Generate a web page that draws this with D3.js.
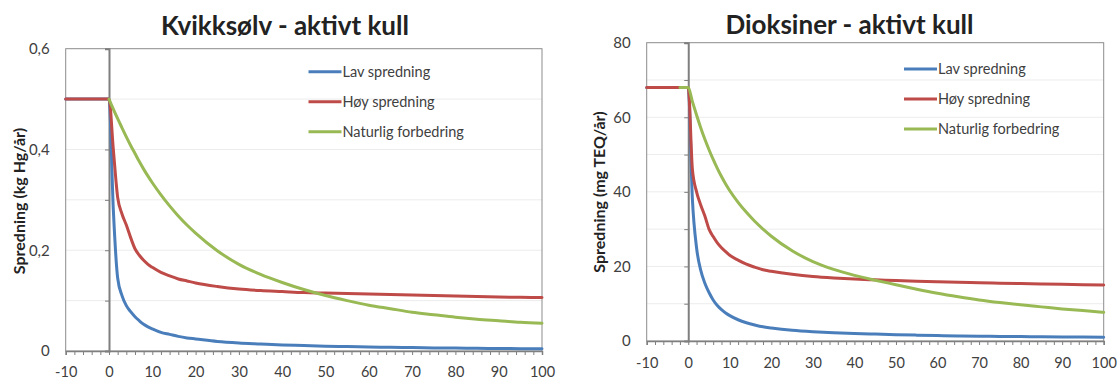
<!DOCTYPE html>
<html>
<head>
<meta charset="utf-8">
<script src="https://cdn.jsdelivr.net/npm/d3@7"></script>
<style>
  html, body { margin: 0; padding: 0; background: #ffffff; }
  svg { display: block; font-family: Lato, "Open Sans", sans-serif; }
</style>
</head>
<body>
<svg id="chart" width="1118" height="381"></svg>
<script>
// ---------- DATA ----------
const years = [-10, -2, 0, 1, 2, 3, 4, 5, 6, 7, 8, 9, 10, 12, 14, 16, 18, 20, 25, 30, 35, 40, 45, 50, 55, 60, 65, 70, 75, 80, 85, 90, 95, 100];

const seriesNames = ["Lav spredning", "Høy spredning", "Naturlig forbedring"];

// Kvikksølv (kg Hg/år)
const hgLav = [0.5, 0.5, 0.5, 0.28, 0.145, 0.11, 0.09, 0.078, 0.068, 0.06, 0.053, 0.048, 0.044, 0.037, 0.033, 0.029, 0.026, 0.024, 0.019, 0.016, 0.014, 0.012, 0.0108, 0.0095, 0.0087, 0.008, 0.0073, 0.0067, 0.0062, 0.0058, 0.0054, 0.005, 0.0047, 0.0045];
const hgHoy = [0.5, 0.5, 0.5, 0.40, 0.305, 0.272, 0.25, 0.225, 0.203, 0.19, 0.18, 0.172, 0.166, 0.156, 0.149, 0.143, 0.139, 0.135, 0.128, 0.123, 0.12, 0.118, 0.116, 0.115, 0.114, 0.113, 0.112, 0.111, 0.11, 0.109, 0.108, 0.107, 0.1065, 0.106];
const hgNat = [null, null, 0.5, 0.48, 0.461, 0.443, 0.425, 0.408, 0.392, 0.376, 0.361, 0.347, 0.334, 0.31, 0.288, 0.268, 0.25, 0.234, 0.199, 0.172, 0.152, 0.136, 0.122, 0.11, 0.1, 0.091, 0.084, 0.077, 0.072, 0.067, 0.063, 0.06, 0.057, 0.055];

// Dioksiner (mg TEQ/år)
const dxLav = [68, 68, 68, 38, 25, 19, 15.5, 13, 11, 9.5, 8.4, 7.5, 6.8, 5.7, 4.9, 4.3, 3.8, 3.5, 2.9, 2.5, 2.2, 2.0, 1.85, 1.7, 1.57, 1.45, 1.37, 1.3, 1.24, 1.18, 1.13, 1.08, 1.04, 1.0];
const dxHoy = [68, 68, 68, 46, 40, 36.5, 33.5, 30, 28, 26.3, 25, 24, 23, 21.7, 20.6, 19.8, 19.1, 18.7, 17.9, 17.3, 16.9, 16.6, 16.4, 16.2, 16.05, 15.9, 15.75, 15.6, 15.5, 15.4, 15.3, 15.2, 15.1, 15.0];
const dxNat = [null, 68, 68, 64.2, 60.6, 57.2, 54.1, 51.3, 48.7, 46.3, 44.1, 42.1, 40.3, 37.2, 34.5, 32.1, 30.0, 28.1, 24.2, 21.3, 19.2, 17.6, 16.3, 15.1, 13.9, 12.8, 11.85, 11.0, 10.3, 9.7, 9.15, 8.6, 8.15, 7.7];

// Axis ticks
const xMinorTicks = d3.range(-10, 101, 2);
const xLabelTicks = [-10, 0, 10, 20, 30, 40, 50, 60, 70, 80, 90, 100];
const hgYTicks = [0, 0.1, 0.2, 0.3, 0.4, 0.5, 0.6];
const hgYLabels = [0, 0.2, 0.4, 0.6];
const dxYTicks = [0, 10, 20, 30, 40, 50, 60, 70, 80];
const dxYLabels = [0, 20, 40, 60, 80];

const colors = ["#4a7ebb", "#be4b48", "#98b954"];

// ---------- DRAW ----------
const svg = d3.select("#chart");

function commaFmt(d) {
  if (d === 0) return "0";
  return Number.isInteger(d) ? String(d) : d3.format(".1f")(d).replace(".", ",");
}

function drawChart(cfg) {
  const g = svg.append("g");
  const x = d3.scaleLinear().domain([-10, 100]).range([cfg.left, cfg.right]);
  const y = d3.scaleLinear().domain([0, cfg.yMax]).range([cfg.bottom, cfg.top]);

  // gridlines
  g.append("g").selectAll("line").data(cfg.yTicks.filter(d => d > 0 && d < cfg.yMax)).join("line")
    .attr("x1", cfg.left).attr("x2", cfg.right)
    .attr("y1", d => y(d)).attr("y2", d => y(d))
    .attr("stroke", "#ececec").attr("stroke-width", 1);

  // plot border
  g.append("rect")
    .attr("x", cfg.left).attr("y", cfg.top)
    .attr("width", cfg.right - cfg.left).attr("height", cfg.bottom - cfg.top)
    .attr("fill", "none").attr("stroke", "#8c8c8c").attr("stroke-width", 1);

  // x axis minor ticks
  const xAxisTicks = d3.axisBottom(x).tickValues(xMinorTicks).tickSize(4).tickFormat("");
  const gx = g.append("g").attr("transform", `translate(0,${cfg.bottom})`).call(xAxisTicks);
  gx.select(".domain").attr("stroke", "#7f7f7f").attr("stroke-width", 1.5);
  gx.selectAll(".tick line").attr("stroke", "#7f7f7f");

  // x axis labels
  const xAxisLab = d3.axisBottom(x).tickValues(xLabelTicks).tickSize(0).tickPadding(cfg.xLabPad).tickFormat(d => String(d));
  const gxl = g.append("g").attr("transform", `translate(0,${cfg.bottom})`).call(xAxisLab);
  gxl.select(".domain").remove();
  gxl.selectAll("text").attr("font-size", 14.5).attr("font-family", "Lato").attr("fill", "#404040");

  // y axis line at x = 0 with ticks
  const yAxisTicks = d3.axisLeft(y).tickValues(cfg.yTicks).tickSize(4).tickFormat("");
  const gy = g.append("g").attr("transform", `translate(${x(0)},0)`).call(yAxisTicks);
  gy.select(".domain").attr("stroke", "#7f7f7f").attr("stroke-width", 2);
  gy.selectAll(".tick line").attr("stroke", "#7f7f7f");

  // y labels at plot left
  const yAxisLab = d3.axisLeft(y).tickValues(cfg.yLabels).tickSize(0).tickPadding(16).tickFormat(commaFmt);
  const gyl = g.append("g").attr("transform", `translate(${cfg.left},0)`).call(yAxisLab);
  gyl.select(".domain").remove();
  gyl.selectAll("text").attr("font-size", 15).attr("font-family", "Lato").attr("fill", "#404040");

  // lines
  const line = d3.line()
    .defined(d => d.v !== null)
    .x(d => x(d.t)).y(d => y(d.v))
    .curve(d3.curveMonotoneX);

  cfg.series.forEach((vals, i) => {
    const pts = years.map((t, j) => ({ t: t, v: vals[j] }));
    g.append("path").datum(pts)
      .attr("d", line)
      .attr("fill", "none")
      .attr("stroke", colors[i])
      .attr("stroke-width", 3)
      .attr("stroke-linecap", "round")
      .attr("stroke-linejoin", "round");
  });

  // legend
  const lg = g.append("g");
  seriesNames.forEach((name, i) => {
    const ly = cfg.legendY + i * 30;
    lg.append("line")
      .attr("x1", cfg.legendX).attr("x2", cfg.legendX + 33)
      .attr("y1", ly).attr("y2", ly)
      .attr("stroke", colors[i]).attr("stroke-width", 3);
    lg.append("text")
      .attr("x", cfg.legendX + 34).attr("y", ly).attr("dy", "0.35em")
      .attr("font-size", 14.5).attr("fill", "#404040")
      .text(name);
  });

  // title
  g.append("text")
    .attr("x", cfg.titleX).attr("y", cfg.titleY)
    .attr("text-anchor", "middle")
    .attr("font-size", 26).attr("font-weight", "bold").attr("fill", "#222222")
    .text(cfg.title);

  // y axis title
  g.append("text")
    .attr("transform", `translate(${cfg.yTitleX},${cfg.yTitleY}) rotate(-90)`)
    .attr("text-anchor", "middle").attr("dy", "0.35em")
    .attr("font-size", 16).attr("font-weight", "bold").attr("fill", "#222222")
    .text(cfg.yTitle);
}

drawChart({
  left: 65.7, right: 542, top: 48.7, bottom: 351,
  yMax: 0.6, yTicks: hgYTicks, yLabels: hgYLabels,
  series: [hgLav, hgHoy, hgNat],
  legendX: 308.5, legendY: 71.7, xLabPad: 16,
  title: "Kvikksølv - aktivt kull", titleX: 285, titleY: 35,
  yTitle: "Spredning (kg Hg/år)", yTitleX: 19, yTitleY: 201
});

drawChart({
  left: 646.7, right: 1103.7, top: 42.7, bottom: 341,
  yMax: 80, yTicks: dxYTicks, yLabels: dxYLabels,
  series: [dxLav, dxHoy, dxNat],
  legendX: 904, legendY: 69, xLabPad: 17,
  title: "Dioksiner - aktivt kull", titleX: 849.5, titleY: 34.3,
  yTitle: "Spredning (mg TEQ/år)", yTitleX: 599, yTitleY: 192
});
</script>
</body>
</html>
